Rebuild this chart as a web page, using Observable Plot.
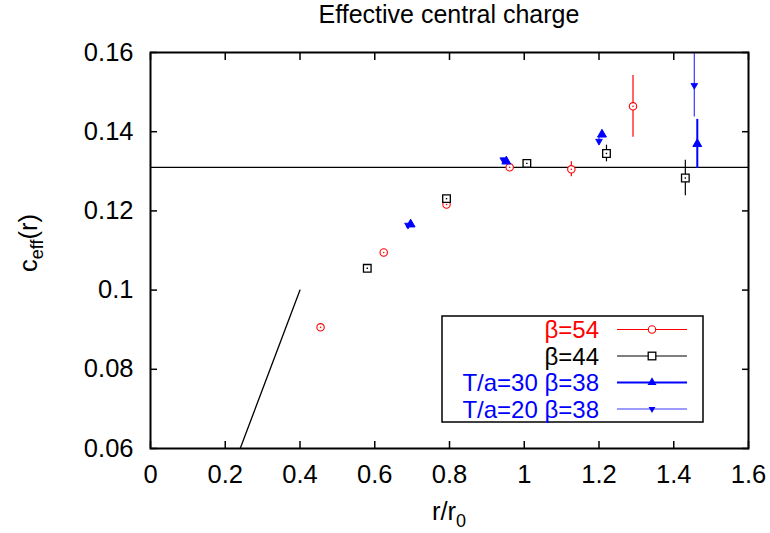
<!DOCTYPE html>
<html>
<head>
<meta charset="utf-8">
<script src="https://cdn.jsdelivr.net/npm/d3@7"></script>
<script src="https://cdn.jsdelivr.net/npm/@observablehq/plot@0.6"></script>
<style>
  html, body { margin: 0; padding: 0; background: #fff; }
  #chart { position: relative; width: 770px; height: 533px; }
  svg { overflow: visible; }
</style>
</head>
<body>
<div id="chart"></div>
<script>
// ---- data ----
const xTicks = [0, 0.2, 0.4, 0.6, 0.8, 1, 1.2, 1.4, 1.6];
const xTickLabels = ["0", "0.2", "0.4", "0.6", "0.8", "1", "1.2", "1.4", "1.6"];
const yTicks = [0.06, 0.08, 0.1, 0.12, 0.14, 0.16];
const yTickLabels = ["0.06", "0.08", "0.1", "0.12", "0.14", "0.16"];

const seriesNames = ["β=54", "β=44", "T/a=30 β=38", "T/a=20 β=38"];

const beta54X = [0.455, 0.624, 0.792, 0.961, 1.126, 1.291];
const beta54Y = [0.0906, 0.1095, 0.1216, 0.1310, 0.1305, 0.1464];
const beta54E = [0.0004, 0.0004, 0.0004, 0.0005, 0.0019, 0.0078];

const beta44X = [0.580, 0.792, 1.007, 1.220, 1.431];
const beta44Y = [0.1055, 0.1231, 0.1320, 0.1345, 0.1283];
const beta44E = [0.0004, 0.0004, 0.0005, 0.0021, 0.0045];

const t30X = [0.696, 0.952, 1.208, 1.463];
const t30Y = [0.1166, 0.1325, 0.1393, 0.1369];
const t30E = [0.0004, 0.0004, 0.0008, 0.0062];

const t20X = [0.689, 0.944, 1.200, 1.455];
const t20Y = [0.1164, 0.1329, 0.1376, 0.1517];
const t20E = [0.0003, 0.0004, 0.0010, 0.0080];

const plateau = 0.131;
const slopeX = [0.24, 0.4];
const slopeY = [0.06, 0.1];

// ---- build tables ----
const mk = (xs, ys, es) => xs.map((x, i) => ({x, y: ys[i], lo: ys[i] - es[i], hi: ys[i] + es[i]}));
const d54 = mk(beta54X, beta54Y, beta54E);
const d44 = mk(beta44X, beta44Y, beta44E);
const d30 = mk(t30X, t30Y, t30E);
const d20 = mk(t20X, t20Y, t20E);
const slope = slopeX.map((x, i) => ({x, y: slopeY[i]}));

const RED = "#ff0000", BLACK = "#000000", BLUE = "#0000ff", BLUE2 = "#3a3aff";
const FONT = "'Liberation Sans', Arial, Helvetica, sans-serif";
const FS = 25.5;

const plot = Plot.plot({
  width: 770,
  height: 533,
  marginLeft: 150,
  marginRight: 22,
  marginTop: 52,
  marginBottom: 85,
  style: {fontFamily: FONT, fontSize: FS + "px", color: "black", background: "white"},
  x: {domain: [0, 1.6]},
  y: {domain: [0.06, 0.16]},
  marks: [
    Plot.ruleY([plateau], {stroke: BLACK, strokeWidth: 1.3}),
    Plot.line(slope, {x: "x", y: "y", stroke: BLACK, strokeWidth: 1.3, clip: true}),
    // error bars
    Plot.ruleX(d54, {x: "x", y1: "lo", y2: "hi", stroke: RED, strokeWidth: 1.2}),
    Plot.ruleX(d44, {x: "x", y1: "lo", y2: "hi", stroke: BLACK, strokeWidth: 1.2}),
    Plot.ruleX(d30, {x: "x", y1: "lo", y2: "hi", stroke: BLUE, strokeWidth: 2}),
    Plot.ruleX(d20, {x: "x", y1: "lo", y2: "hi", stroke: BLUE2, strokeWidth: 1.2, clip: true}),
    // markers
    Plot.dot(d54, {x: "x", y: "y", r: 3.7, symbol: "circle", stroke: RED, fill: "white", strokeWidth: 1.1}),
    Plot.dot(d54, {x: "x", y: "y", r: 0.8, fill: RED}),
    Plot.dot(d44, {x: "x", y: "y", r: 4.3, symbol: "square", stroke: BLACK, fill: "white", strokeWidth: 1.3}),
    Plot.dot(d44, {x: "x", y: "y", r: 0.8, symbol: "square", fill: BLACK}),
    Plot.dot(d30, {x: "x", y: "y", r: 3.3, symbol: "triangle", fill: BLUE, stroke: BLUE, strokeWidth: 1}),
    Plot.dot(d20, {x: "x", y: "y", r: 2.5, symbol: "triangle", rotate: 180, fill: BLUE, stroke: BLUE, strokeWidth: 0.8}),
    Plot.frame({stroke: BLACK, strokeWidth: 2}),
    // inward ticks on all four sides
    Plot.axisX({ticks: xTicks, anchor: "bottom", tickSize: -7, strokeWidth: 1.5, text: null, label: null}),
    Plot.axisX({ticks: xTicks, anchor: "top", tickSize: -7, strokeWidth: 1.5, text: null, label: null}),
    Plot.axisY({ticks: yTicks, anchor: "left", tickSize: -7, strokeWidth: 1.5, text: null, label: null}),
    Plot.axisY({ticks: yTicks, anchor: "right", tickSize: -7, strokeWidth: 1.5, text: null, label: null}),
    // tick labels
    Plot.axisX({ticks: xTicks, anchor: "bottom", tickSize: 0, tickPadding: 16, label: null,
      tickFormat: d => xTickLabels[xTicks.indexOf(d)], fontSize: FS}),
    Plot.axisY({ticks: yTicks, anchor: "left", tickSize: 0, tickPadding: 17, label: null,
      tickFormat: d => yTickLabels[yTicks.indexOf(d)], fontSize: FS})
  ]
});

document.getElementById("chart").appendChild(plot);

// ---- title and axis labels (with subscripts) ----
const svg = d3.select(plot);
const sx = plot.scale("x"), sy = plot.scale("y");
const cx = (sx.apply(0) + sx.apply(1.6)) / 2;

svg.append("text")
  .attr("x", cx).attr("y", 23)
  .attr("text-anchor", "middle")
  .attr("font-family", FONT).attr("font-size", 25).attr("fill", "black")
  .text("Effective central charge");

const xl = svg.append("text")
  .attr("x", cx).attr("y", 520)
  .attr("text-anchor", "middle")
  .attr("font-family", FONT).attr("font-size", FS).attr("fill", "black");
xl.append("tspan").text("r/r");
xl.append("tspan").attr("font-size", 18).attr("dy", 7).text("0");

const yl = svg.append("text")
  .attr("transform", `translate(37, ${(sy.apply(0.06) + sy.apply(0.16)) / 2 - 7}) rotate(-90)`)
  .attr("text-anchor", "middle")
  .attr("font-family", FONT).attr("font-size", FS).attr("fill", "black");
yl.append("tspan").text("c");
yl.append("tspan").attr("font-size", 18).attr("dy", 6).text("eff");
yl.append("tspan").attr("dy", -6).text("(r)");

// ---- legend ----
const lg = svg.append("g").attr("transform", "translate(442,316)");
lg.append("rect").attr("width", 261).attr("height", 106)
  .attr("fill", "white").attr("stroke", "black").attr("stroke-width", 1.5);
const legendColors = [RED, BLACK, BLUE, BLUE];
const lineColors = [RED, BLACK, BLUE, BLUE2];
const lineWidths = [1.2, 1.2, 2, 1.2];
seriesNames.forEach((name, i) => {
  const yy = 13.5 + i * 26.5;
  lg.append("text").attr("x", 157).attr("y", yy).attr("dy", "0.36em")
    .attr("text-anchor", "end").attr("font-family", FONT).attr("font-size", 24)
    .attr("fill", legendColors[i]).text(name);
  lg.append("line").attr("x1", 175).attr("x2", 245).attr("y1", yy).attr("y2", yy)
    .attr("stroke", lineColors[i]).attr("stroke-width", lineWidths[i]);
  const g = lg.append("g").attr("transform", `translate(210,${yy})`);
  if (i === 0) {
    g.append("circle").attr("r", 3.7).attr("fill", "white").attr("stroke", RED).attr("stroke-width", 1.1);
  } else if (i === 1) {
    g.append("rect").attr("x", -3.8).attr("y", -3.8).attr("width", 7.6).attr("height", 7.6)
      .attr("fill", "white").attr("stroke", BLACK).attr("stroke-width", 1.3);
  } else if (i === 2) {
    g.append("path").attr("d", d3.symbol(d3.symbolTriangle, Math.PI * 3.3 * 3.3)()).attr("fill", BLUE);
  } else {
    g.append("path").attr("d", d3.symbol(d3.symbolTriangle, Math.PI * 2.5 * 2.5)())
      .attr("transform", "rotate(180)").attr("fill", BLUE);
  }
});
</script>
</body>
</html>
